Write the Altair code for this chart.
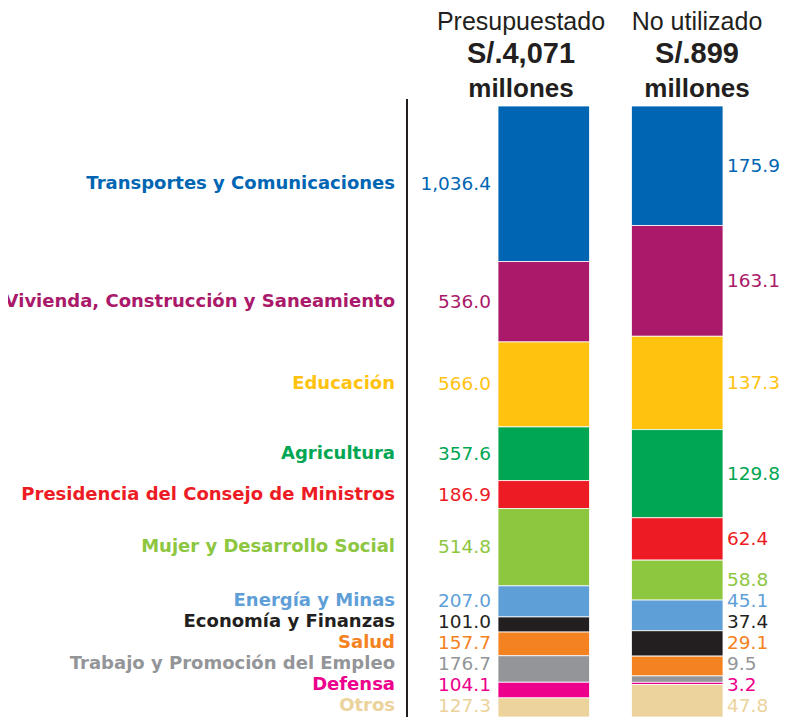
import altair as alt
import pandas as pd

# ---------------- data ----------------
categorias = [
    "Transportes y Comunicaciones",
    "Vivienda, Construcción y Saneamiento",
    "Educación",
    "Agricultura",
    "Presidencia del Consejo de Ministros",
    "Mujer y Desarrollo Social",
    "Energía y Minas",
    "Economía y Finanzas",
    "Salud",
    "Trabajo y Promoción del Empleo",
    "Defensa",
    "Otros",
]
presupuestado = [1036.4, 536.0, 566.0, 357.6, 186.9, 514.8, 207.0, 101.0, 157.7, 176.7, 104.1, 127.3]
no_utilizado = [175.9, 163.1, 137.3, 129.8, 62.4, 58.8, 45.1, 37.4, 29.1, 9.5, 3.2, 47.8]
colores = ["#0066B3", "#AA196A", "#FFC20E", "#00A651", "#ED1C24", "#8DC63F",
           "#5F9FD8", "#231F20", "#F58220", "#939598", "#EC008C", "#EBD39B"]
columnas = ["Presupuestado", "No utilizado"]
totales = ["S/.4,071", "S/.899"]
unidad = "millones"

# ---------------- layout ----------------
W, H = 773, 709
Y_TOP, Y_BOT = 98, 709
PLOT_H = Y_BOT - Y_TOP
DARK = "#231F20"


def label_positions(vals, gap_px=21, bottom_px=11):
    """Segment midpoints (as fraction of column) nudged apart so labels don't overlap."""
    tot = sum(vals)
    cum = 0.0
    mids = []
    for v in vals:
        mids.append((cum + v / 2) / tot)
        cum += v
    gap = gap_px / PLOT_H
    hi = 1 - bottom_px / PLOT_H
    pos = mids[:]
    for i in range(1, len(pos)):
        pos[i] = max(pos[i], pos[i - 1] + gap)
    pos[-1] = min(pos[-1], hi)
    for i in range(len(pos) - 2, -1, -1):
        pos[i] = min(pos[i], pos[i + 1] - gap)
    return pos


rows = []
for ci, (col, vals) in enumerate(zip(columnas, [presupuestado, no_utilizado])):
    for i, (cat, v) in enumerate(zip(categorias, vals)):
        rows.append({"columna": col, "categoria": cat, "orden": i, "valor": v})
bars_df = pd.DataFrame(rows)

left_lab = pd.DataFrame({
    "categoria": categorias,
    "texto": [f"{v:,.1f}" for v in presupuestado],
    "pos": label_positions(presupuestado),
})
right_lab = pd.DataFrame({
    "categoria": categorias,
    "texto": [f"{v:,.1f}" for v in no_utilizado],
    "pos": label_positions(no_utilizado),
})

yscale = alt.Scale(domain=[0, 1], range=[Y_TOP, Y_BOT], nice=False, zero=False)
cscale = alt.Scale(domain=categorias, range=colores)

bars = alt.Chart(bars_df).transform_stack(
    stack="valor",
    as_=["y0", "y1"],
    groupby=["columna"],
    offset="normalize",
    sort=[alt.SortField("orden", order="ascending")],
).mark_bar(stroke="white", strokeWidth=0.8).encode(
    x=alt.X("columna:N", scale=alt.Scale(domain=columnas, range=[490, 715],
                                         paddingInner=0.3146, paddingOuter=0), axis=None),
    y=alt.Y("y0:Q", scale=yscale, axis=None),
    y2="y1:Q",
    color=alt.Color("categoria:N", scale=cscale, legend=None),
)

cat_labels = alt.Chart(left_lab).mark_text(
    align="right", baseline="middle", font="DejaVu Sans", fontWeight="bold", fontSize=18
).encode(
    x=alt.value(387),
    y=alt.Y("pos:Q", scale=yscale, axis=None),
    text="categoria:N",
    color=alt.Color("categoria:N", scale=cscale, legend=None),
)

left_vals = alt.Chart(left_lab).mark_text(
    align="right", baseline="middle", font="DejaVu Sans", fontSize=18.5
).encode(
    x=alt.value(483),
    y=alt.Y("pos:Q", scale=yscale, axis=None),
    text="texto:N",
    color=alt.Color("categoria:N", scale=cscale, legend=None),
)

right_vals = alt.Chart(right_lab).mark_text(
    align="left", baseline="middle", font="DejaVu Sans", fontSize=18.5
).encode(
    x=alt.value(719),
    y=alt.Y("pos:Q", scale=yscale, axis=None),
    text="texto:N",
    color=alt.Color("categoria:N", scale=cscale, legend=None),
)

axis_line = alt.Chart(pd.DataFrame({"c": [0]})).mark_rule(
    color=DARK, strokeWidth=2
).encode(x=alt.value(399), y=alt.value(91), y2=alt.value(H))

header_layers = []
header_x = [513, 689]
for i in range(2):
    header_layers.append(
        alt.Chart(pd.DataFrame({"t": [columnas[i]]})).mark_text(
            align="center", baseline="alphabetic", font="Liberation Sans",
            fontSize=25, color=DARK
        ).encode(text="t:N", x=alt.value(header_x[i]), y=alt.value(22))
    )
    header_layers.append(
        alt.Chart(pd.DataFrame({"t": [totales[i]]})).mark_text(
            align="center", baseline="alphabetic", font="Liberation Sans",
            fontWeight="bold", fontSize=29, color=DARK
        ).encode(text="t:N", x=alt.value(header_x[i]), y=alt.value(55))
    )
    header_layers.append(
        alt.Chart(pd.DataFrame({"t": [unidad]})).mark_text(
            align="center", baseline="alphabetic", font="Liberation Sans",
            fontWeight="bold", fontSize=26, color=DARK
        ).encode(text="t:N", x=alt.value(header_x[i]), y=alt.value(89))
    )

chart = alt.layer(
    bars, axis_line, cat_labels, left_vals, right_vals, *header_layers
).properties(
    width=W, height=H, padding=0,
    autosize=alt.AutoSizeParams(type="none"),
    background="white",
).configure_view(stroke=None)

chart.save("out.html", embed_options={"renderer": "svg", "actions": False})
